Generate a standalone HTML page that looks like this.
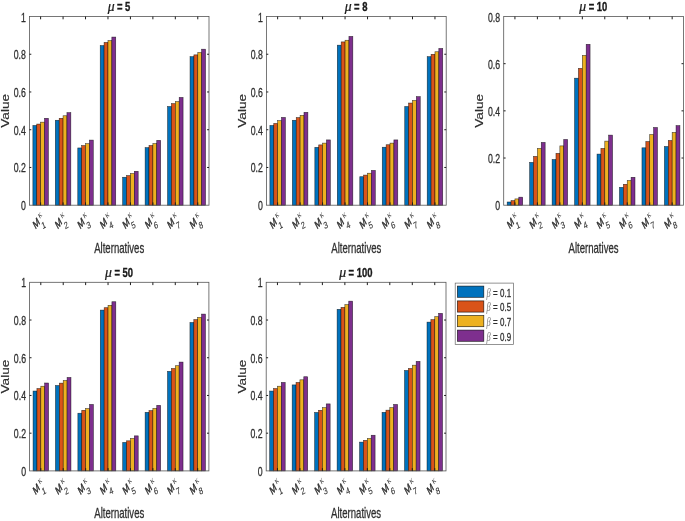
<!DOCTYPE html>
<html>
<head>
<meta charset="utf-8">
<title>Bar charts</title>
<style>
html,body{margin:0;padding:0;background:#ffffff;}
body{width:685px;height:521px;overflow:hidden;font-family:"Liberation Sans",sans-serif;}
svg{display:block;will-change:transform;filter:blur(0.3px);}
text{font-family:"Liberation Sans",sans-serif;}
.tk{font-size:12.5px;fill:#2e2e2e;stroke:#2e2e2e;stroke-width:0.3px;}
.lb{font-size:13.3px;fill:#2e2e2e;}
.tt{font-size:13.2px;font-weight:bold;fill:#1a1a1a;}
.mi{font-family:"Liberation Serif",serif;font-style:italic;}
.ms{font-family:"Liberation Sans",sans-serif;font-style:italic;}
.xl{fill:#2e2e2e;stroke:#2e2e2e;stroke-width:0.4px;}
</style>
</head>
<body>
<svg width="685" height="521" viewBox="0 0 685 521">
<rect x="0" y="0" width="685" height="521" fill="#ffffff"/>

<g>
<rect x="32.88" y="125.49" width="3.88" height="79.71" fill="#0072BD" stroke="#000000" stroke-opacity="0.7" stroke-width="0.6"/>
<rect x="36.75" y="124.06" width="3.88" height="81.14" fill="#D95319" stroke="#000000" stroke-opacity="0.7" stroke-width="0.6"/>
<rect x="40.62" y="122.17" width="3.88" height="83.03" fill="#EDB120" stroke="#000000" stroke-opacity="0.7" stroke-width="0.6"/>
<rect x="44.5" y="118.3" width="3.88" height="86.9" fill="#7E2F8E" stroke="#000000" stroke-opacity="0.7" stroke-width="0.6"/>
<rect x="55.32" y="120.28" width="3.88" height="84.91" fill="#0072BD" stroke="#000000" stroke-opacity="0.7" stroke-width="0.6"/>
<rect x="59.2" y="118.3" width="3.88" height="86.9" fill="#D95319" stroke="#000000" stroke-opacity="0.7" stroke-width="0.6"/>
<rect x="63.07" y="115.76" width="3.88" height="89.44" fill="#EDB120" stroke="#000000" stroke-opacity="0.7" stroke-width="0.6"/>
<rect x="66.95" y="112.64" width="3.88" height="92.56" fill="#7E2F8E" stroke="#000000" stroke-opacity="0.7" stroke-width="0.6"/>
<rect x="77.78" y="147.95" width="3.88" height="57.25" fill="#0072BD" stroke="#000000" stroke-opacity="0.7" stroke-width="0.6"/>
<rect x="81.65" y="145.57" width="3.88" height="59.63" fill="#D95319" stroke="#000000" stroke-opacity="0.7" stroke-width="0.6"/>
<rect x="85.53" y="143.68" width="3.88" height="61.52" fill="#EDB120" stroke="#000000" stroke-opacity="0.7" stroke-width="0.6"/>
<rect x="89.4" y="140.1" width="3.88" height="65.1" fill="#7E2F8E" stroke="#000000" stroke-opacity="0.7" stroke-width="0.6"/>
<rect x="100.22" y="45.56" width="3.88" height="159.64" fill="#0072BD" stroke="#000000" stroke-opacity="0.7" stroke-width="0.6"/>
<rect x="104.1" y="42.45" width="3.88" height="162.75" fill="#D95319" stroke="#000000" stroke-opacity="0.7" stroke-width="0.6"/>
<rect x="107.97" y="40.65" width="3.88" height="164.55" fill="#EDB120" stroke="#000000" stroke-opacity="0.7" stroke-width="0.6"/>
<rect x="111.85" y="37.07" width="3.88" height="168.13" fill="#7E2F8E" stroke="#000000" stroke-opacity="0.7" stroke-width="0.6"/>
<rect x="122.67" y="177.27" width="3.88" height="27.93" fill="#0072BD" stroke="#000000" stroke-opacity="0.7" stroke-width="0.6"/>
<rect x="126.55" y="175.57" width="3.88" height="29.63" fill="#D95319" stroke="#000000" stroke-opacity="0.7" stroke-width="0.6"/>
<rect x="130.42" y="173.5" width="3.88" height="31.7" fill="#EDB120" stroke="#000000" stroke-opacity="0.7" stroke-width="0.6"/>
<rect x="134.3" y="171.31" width="3.88" height="33.89" fill="#7E2F8E" stroke="#000000" stroke-opacity="0.7" stroke-width="0.6"/>
<rect x="145.12" y="147.65" width="3.88" height="57.55" fill="#0072BD" stroke="#000000" stroke-opacity="0.7" stroke-width="0.6"/>
<rect x="149" y="145.48" width="3.88" height="59.72" fill="#D95319" stroke="#000000" stroke-opacity="0.7" stroke-width="0.6"/>
<rect x="152.88" y="143.57" width="3.88" height="61.63" fill="#EDB120" stroke="#000000" stroke-opacity="0.7" stroke-width="0.6"/>
<rect x="156.75" y="140.36" width="3.88" height="64.84" fill="#7E2F8E" stroke="#000000" stroke-opacity="0.7" stroke-width="0.6"/>
<rect x="167.57" y="106.51" width="3.88" height="98.69" fill="#0072BD" stroke="#000000" stroke-opacity="0.7" stroke-width="0.6"/>
<rect x="171.45" y="103.59" width="3.88" height="101.61" fill="#D95319" stroke="#000000" stroke-opacity="0.7" stroke-width="0.6"/>
<rect x="175.32" y="101.6" width="3.88" height="103.6" fill="#EDB120" stroke="#000000" stroke-opacity="0.7" stroke-width="0.6"/>
<rect x="179.2" y="97.45" width="3.88" height="107.75" fill="#7E2F8E" stroke="#000000" stroke-opacity="0.7" stroke-width="0.6"/>
<rect x="190.03" y="56.69" width="3.88" height="148.51" fill="#0072BD" stroke="#000000" stroke-opacity="0.7" stroke-width="0.6"/>
<rect x="193.9" y="54.86" width="3.88" height="150.34" fill="#D95319" stroke="#000000" stroke-opacity="0.7" stroke-width="0.6"/>
<rect x="197.78" y="52.54" width="3.88" height="152.66" fill="#EDB120" stroke="#000000" stroke-opacity="0.7" stroke-width="0.6"/>
<rect x="201.65" y="49.2" width="3.88" height="156" fill="#7E2F8E" stroke="#000000" stroke-opacity="0.7" stroke-width="0.6"/>
<rect x="29.4" y="16.5" width="179.6" height="188.7" fill="none" stroke="#555555" stroke-width="0.8"/>
<path d="M40.62 205.2v-2.8M40.62 16.5v2.8M63.07 205.2v-2.8M63.07 16.5v2.8M85.53 205.2v-2.8M85.53 16.5v2.8M107.97 205.2v-2.8M107.97 16.5v2.8M130.42 205.2v-2.8M130.42 16.5v2.8M152.88 205.2v-2.8M152.88 16.5v2.8M175.32 205.2v-2.8M175.32 16.5v2.8M197.78 205.2v-2.8M197.78 16.5v2.8M29.4 167.46h1.9M209 167.46h-1.9M29.4 129.72h1.9M209 129.72h-1.9M29.4 91.98h1.9M209 91.98h-1.9M29.4 54.24h1.9M209 54.24h-1.9" stroke="#1c1c1c" stroke-width="1" fill="none"/>
<text class="tk" text-anchor="end" transform="translate(25.8 210.2) scale(0.7 1)">0</text>
<text class="tk" text-anchor="end" transform="translate(25.8 172.46) scale(0.7 1)">0.2</text>
<text class="tk" text-anchor="end" transform="translate(25.8 134.72) scale(0.7 1)">0.4</text>
<text class="tk" text-anchor="end" transform="translate(25.8 96.98) scale(0.7 1)">0.6</text>
<text class="tk" text-anchor="end" transform="translate(25.8 59.24) scale(0.7 1)">0.8</text>
<text class="tk" text-anchor="end" transform="translate(25.8 21.5) scale(0.7 1)">1</text>
<g class="xl" transform="translate(40.52 222.8) scale(0.75 1) rotate(-45)"><text class="ms" text-anchor="end" x="0" y="0" font-size="11.0">M</text><text class="mi" x="2.2" y="-3.4" font-size="10" stroke="none" fill="#3a3a3a">&#954;</text><text transform="translate(0.0 7.8) rotate(22)" text-anchor="middle" font-size="9.6" stroke-width="0.1">1</text></g>
<g class="xl" transform="translate(62.97 222.8) scale(0.75 1) rotate(-45)"><text class="ms" text-anchor="end" x="0" y="0" font-size="11.0">M</text><text class="mi" x="2.2" y="-3.4" font-size="10" stroke="none" fill="#3a3a3a">&#954;</text><text transform="translate(0.0 7.8) rotate(22)" text-anchor="middle" font-size="9.6" stroke-width="0.1">2</text></g>
<g class="xl" transform="translate(85.43 222.8) scale(0.75 1) rotate(-45)"><text class="ms" text-anchor="end" x="0" y="0" font-size="11.0">M</text><text class="mi" x="2.2" y="-3.4" font-size="10" stroke="none" fill="#3a3a3a">&#954;</text><text transform="translate(0.0 7.8) rotate(22)" text-anchor="middle" font-size="9.6" stroke-width="0.1">3</text></g>
<g class="xl" transform="translate(107.88 222.8) scale(0.75 1) rotate(-45)"><text class="ms" text-anchor="end" x="0" y="0" font-size="11.0">M</text><text class="mi" x="2.2" y="-3.4" font-size="10" stroke="none" fill="#3a3a3a">&#954;</text><text transform="translate(0.0 7.8) rotate(22)" text-anchor="middle" font-size="9.6" stroke-width="0.1">4</text></g>
<g class="xl" transform="translate(130.32 222.8) scale(0.75 1) rotate(-45)"><text class="ms" text-anchor="end" x="0" y="0" font-size="11.0">M</text><text class="mi" x="2.2" y="-3.4" font-size="10" stroke="none" fill="#3a3a3a">&#954;</text><text transform="translate(0.0 7.8) rotate(22)" text-anchor="middle" font-size="9.6" stroke-width="0.1">5</text></g>
<g class="xl" transform="translate(152.78 222.8) scale(0.75 1) rotate(-45)"><text class="ms" text-anchor="end" x="0" y="0" font-size="11.0">M</text><text class="mi" x="2.2" y="-3.4" font-size="10" stroke="none" fill="#3a3a3a">&#954;</text><text transform="translate(0.0 7.8) rotate(22)" text-anchor="middle" font-size="9.6" stroke-width="0.1">6</text></g>
<g class="xl" transform="translate(175.22 222.8) scale(0.75 1) rotate(-45)"><text class="ms" text-anchor="end" x="0" y="0" font-size="11.0">M</text><text class="mi" x="2.2" y="-3.4" font-size="10" stroke="none" fill="#3a3a3a">&#954;</text><text transform="translate(0.0 7.8) rotate(22)" text-anchor="middle" font-size="9.6" stroke-width="0.1">7</text></g>
<g class="xl" transform="translate(197.68 222.8) scale(0.75 1) rotate(-45)"><text class="ms" text-anchor="end" x="0" y="0" font-size="11.0">M</text><text class="mi" x="2.2" y="-3.4" font-size="10" stroke="none" fill="#3a3a3a">&#954;</text><text transform="translate(0.0 7.8) rotate(22)" text-anchor="middle" font-size="9.6" stroke-width="0.1">8</text></g>
<text class="mi" font-size="14" fill="#1a1a1a" stroke="#1a1a1a" stroke-width="0.25" transform="translate(107.65 11.3) scale(0.98 1)">&#956;</text>
<text class="tt" text-anchor="end" stroke="#1a1a1a" stroke-width="0.38" transform="translate(130.35 11.3) scale(0.715 1)">= 5</text>
<text class="lb" text-anchor="middle" font-size="14.4" style="font-size:14.4px" stroke="#2e2e2e" stroke-width="0.3" transform="translate(119.2 252.7) scale(0.665 1)">Alternatives</text>
<text class="lb" text-anchor="middle" transform="translate(9.1 110.85) rotate(-90) scale(1.02 0.82)" stroke="#2e2e2e" stroke-width="0.2">Value</text>
</g>
<g>
<rect x="269.89" y="125.47" width="3.88" height="79.73" fill="#0072BD" stroke="#000000" stroke-opacity="0.7" stroke-width="0.6"/>
<rect x="273.76" y="123.44" width="3.88" height="81.76" fill="#D95319" stroke="#000000" stroke-opacity="0.7" stroke-width="0.6"/>
<rect x="277.64" y="120.66" width="3.88" height="84.54" fill="#EDB120" stroke="#000000" stroke-opacity="0.7" stroke-width="0.6"/>
<rect x="281.51" y="117.45" width="3.88" height="87.75" fill="#7E2F8E" stroke="#000000" stroke-opacity="0.7" stroke-width="0.6"/>
<rect x="292.36" y="120.28" width="3.88" height="84.91" fill="#0072BD" stroke="#000000" stroke-opacity="0.7" stroke-width="0.6"/>
<rect x="296.24" y="117.59" width="3.88" height="87.61" fill="#D95319" stroke="#000000" stroke-opacity="0.7" stroke-width="0.6"/>
<rect x="300.11" y="115.4" width="3.88" height="89.8" fill="#EDB120" stroke="#000000" stroke-opacity="0.7" stroke-width="0.6"/>
<rect x="303.99" y="112.34" width="3.88" height="92.86" fill="#7E2F8E" stroke="#000000" stroke-opacity="0.7" stroke-width="0.6"/>
<rect x="314.84" y="147.38" width="3.88" height="57.82" fill="#0072BD" stroke="#000000" stroke-opacity="0.7" stroke-width="0.6"/>
<rect x="318.71" y="144.89" width="3.88" height="60.31" fill="#D95319" stroke="#000000" stroke-opacity="0.7" stroke-width="0.6"/>
<rect x="322.59" y="143.12" width="3.88" height="62.08" fill="#EDB120" stroke="#000000" stroke-opacity="0.7" stroke-width="0.6"/>
<rect x="326.46" y="139.91" width="3.88" height="65.29" fill="#7E2F8E" stroke="#000000" stroke-opacity="0.7" stroke-width="0.6"/>
<rect x="337.31" y="45.18" width="3.88" height="160.02" fill="#0072BD" stroke="#000000" stroke-opacity="0.7" stroke-width="0.6"/>
<rect x="341.19" y="41.9" width="3.88" height="163.3" fill="#D95319" stroke="#000000" stroke-opacity="0.7" stroke-width="0.6"/>
<rect x="345.06" y="40.26" width="3.88" height="164.94" fill="#EDB120" stroke="#000000" stroke-opacity="0.7" stroke-width="0.6"/>
<rect x="348.94" y="36.43" width="3.88" height="168.77" fill="#7E2F8E" stroke="#000000" stroke-opacity="0.7" stroke-width="0.6"/>
<rect x="359.79" y="176.71" width="3.88" height="28.49" fill="#0072BD" stroke="#000000" stroke-opacity="0.7" stroke-width="0.6"/>
<rect x="363.66" y="175.1" width="3.88" height="30.1" fill="#D95319" stroke="#000000" stroke-opacity="0.7" stroke-width="0.6"/>
<rect x="367.54" y="173.22" width="3.88" height="31.98" fill="#EDB120" stroke="#000000" stroke-opacity="0.7" stroke-width="0.6"/>
<rect x="371.41" y="170.44" width="3.88" height="34.76" fill="#7E2F8E" stroke="#000000" stroke-opacity="0.7" stroke-width="0.6"/>
<rect x="382.26" y="147.23" width="3.88" height="57.97" fill="#0072BD" stroke="#000000" stroke-opacity="0.7" stroke-width="0.6"/>
<rect x="386.14" y="144.74" width="3.88" height="60.46" fill="#D95319" stroke="#000000" stroke-opacity="0.7" stroke-width="0.6"/>
<rect x="390.01" y="143.12" width="3.88" height="62.08" fill="#EDB120" stroke="#000000" stroke-opacity="0.7" stroke-width="0.6"/>
<rect x="393.89" y="139.91" width="3.88" height="65.29" fill="#7E2F8E" stroke="#000000" stroke-opacity="0.7" stroke-width="0.6"/>
<rect x="404.74" y="106.51" width="3.88" height="98.69" fill="#0072BD" stroke="#000000" stroke-opacity="0.7" stroke-width="0.6"/>
<rect x="408.61" y="103.04" width="3.88" height="102.16" fill="#D95319" stroke="#000000" stroke-opacity="0.7" stroke-width="0.6"/>
<rect x="412.49" y="100.47" width="3.88" height="104.73" fill="#EDB120" stroke="#000000" stroke-opacity="0.7" stroke-width="0.6"/>
<rect x="416.36" y="96.64" width="3.88" height="108.56" fill="#7E2F8E" stroke="#000000" stroke-opacity="0.7" stroke-width="0.6"/>
<rect x="427.21" y="56.69" width="3.88" height="148.51" fill="#0072BD" stroke="#000000" stroke-opacity="0.7" stroke-width="0.6"/>
<rect x="431.09" y="54.32" width="3.88" height="150.88" fill="#D95319" stroke="#000000" stroke-opacity="0.7" stroke-width="0.6"/>
<rect x="434.96" y="51.75" width="3.88" height="153.45" fill="#EDB120" stroke="#000000" stroke-opacity="0.7" stroke-width="0.6"/>
<rect x="438.84" y="48.47" width="3.88" height="156.73" fill="#7E2F8E" stroke="#000000" stroke-opacity="0.7" stroke-width="0.6"/>
<rect x="266.4" y="16.5" width="179.8" height="188.7" fill="none" stroke="#555555" stroke-width="0.8"/>
<path d="M277.64 205.2v-2.8M277.64 16.5v2.8M300.11 205.2v-2.8M300.11 16.5v2.8M322.59 205.2v-2.8M322.59 16.5v2.8M345.06 205.2v-2.8M345.06 16.5v2.8M367.54 205.2v-2.8M367.54 16.5v2.8M390.01 205.2v-2.8M390.01 16.5v2.8M412.49 205.2v-2.8M412.49 16.5v2.8M434.96 205.2v-2.8M434.96 16.5v2.8M266.4 167.46h1.9M446.2 167.46h-1.9M266.4 129.72h1.9M446.2 129.72h-1.9M266.4 91.98h1.9M446.2 91.98h-1.9M266.4 54.24h1.9M446.2 54.24h-1.9" stroke="#1c1c1c" stroke-width="1" fill="none"/>
<text class="tk" text-anchor="end" transform="translate(262.8 210.2) scale(0.7 1)">0</text>
<text class="tk" text-anchor="end" transform="translate(262.8 172.46) scale(0.7 1)">0.2</text>
<text class="tk" text-anchor="end" transform="translate(262.8 134.72) scale(0.7 1)">0.4</text>
<text class="tk" text-anchor="end" transform="translate(262.8 96.98) scale(0.7 1)">0.6</text>
<text class="tk" text-anchor="end" transform="translate(262.8 59.24) scale(0.7 1)">0.8</text>
<text class="tk" text-anchor="end" transform="translate(262.8 21.5) scale(0.7 1)">1</text>
<g class="xl" transform="translate(277.54 222.8) scale(0.75 1) rotate(-45)"><text class="ms" text-anchor="end" x="0" y="0" font-size="11.0">M</text><text class="mi" x="2.2" y="-3.4" font-size="10" stroke="none" fill="#3a3a3a">&#954;</text><text transform="translate(0.0 7.8) rotate(22)" text-anchor="middle" font-size="9.6" stroke-width="0.1">1</text></g>
<g class="xl" transform="translate(300.01 222.8) scale(0.75 1) rotate(-45)"><text class="ms" text-anchor="end" x="0" y="0" font-size="11.0">M</text><text class="mi" x="2.2" y="-3.4" font-size="10" stroke="none" fill="#3a3a3a">&#954;</text><text transform="translate(0.0 7.8) rotate(22)" text-anchor="middle" font-size="9.6" stroke-width="0.1">2</text></g>
<g class="xl" transform="translate(322.49 222.8) scale(0.75 1) rotate(-45)"><text class="ms" text-anchor="end" x="0" y="0" font-size="11.0">M</text><text class="mi" x="2.2" y="-3.4" font-size="10" stroke="none" fill="#3a3a3a">&#954;</text><text transform="translate(0.0 7.8) rotate(22)" text-anchor="middle" font-size="9.6" stroke-width="0.1">3</text></g>
<g class="xl" transform="translate(344.96 222.8) scale(0.75 1) rotate(-45)"><text class="ms" text-anchor="end" x="0" y="0" font-size="11.0">M</text><text class="mi" x="2.2" y="-3.4" font-size="10" stroke="none" fill="#3a3a3a">&#954;</text><text transform="translate(0.0 7.8) rotate(22)" text-anchor="middle" font-size="9.6" stroke-width="0.1">4</text></g>
<g class="xl" transform="translate(367.44 222.8) scale(0.75 1) rotate(-45)"><text class="ms" text-anchor="end" x="0" y="0" font-size="11.0">M</text><text class="mi" x="2.2" y="-3.4" font-size="10" stroke="none" fill="#3a3a3a">&#954;</text><text transform="translate(0.0 7.8) rotate(22)" text-anchor="middle" font-size="9.6" stroke-width="0.1">5</text></g>
<g class="xl" transform="translate(389.91 222.8) scale(0.75 1) rotate(-45)"><text class="ms" text-anchor="end" x="0" y="0" font-size="11.0">M</text><text class="mi" x="2.2" y="-3.4" font-size="10" stroke="none" fill="#3a3a3a">&#954;</text><text transform="translate(0.0 7.8) rotate(22)" text-anchor="middle" font-size="9.6" stroke-width="0.1">6</text></g>
<g class="xl" transform="translate(412.39 222.8) scale(0.75 1) rotate(-45)"><text class="ms" text-anchor="end" x="0" y="0" font-size="11.0">M</text><text class="mi" x="2.2" y="-3.4" font-size="10" stroke="none" fill="#3a3a3a">&#954;</text><text transform="translate(0.0 7.8) rotate(22)" text-anchor="middle" font-size="9.6" stroke-width="0.1">7</text></g>
<g class="xl" transform="translate(434.86 222.8) scale(0.75 1) rotate(-45)"><text class="ms" text-anchor="end" x="0" y="0" font-size="11.0">M</text><text class="mi" x="2.2" y="-3.4" font-size="10" stroke="none" fill="#3a3a3a">&#954;</text><text transform="translate(0.0 7.8) rotate(22)" text-anchor="middle" font-size="9.6" stroke-width="0.1">8</text></g>
<text class="mi" font-size="14" fill="#1a1a1a" stroke="#1a1a1a" stroke-width="0.25" transform="translate(344.75 11.3) scale(0.98 1)">&#956;</text>
<text class="tt" text-anchor="end" stroke="#1a1a1a" stroke-width="0.38" transform="translate(367.45 11.3) scale(0.715 1)">= 8</text>
<text class="lb" text-anchor="middle" font-size="14.4" style="font-size:14.4px" stroke="#2e2e2e" stroke-width="0.3" transform="translate(356.3 252.7) scale(0.665 1)">Alternatives</text>
<text class="lb" text-anchor="middle" transform="translate(246.1 110.85) rotate(-90) scale(1.02 0.82)" stroke="#2e2e2e" stroke-width="0.2">Value</text>
</g>
<g>
<rect x="507.18" y="201.99" width="3.88" height="3.21" fill="#0072BD" stroke="#000000" stroke-opacity="0.7" stroke-width="0.6"/>
<rect x="511.06" y="200.65" width="3.88" height="4.55" fill="#D95319" stroke="#000000" stroke-opacity="0.7" stroke-width="0.6"/>
<rect x="514.93" y="198.9" width="3.88" height="6.3" fill="#EDB120" stroke="#000000" stroke-opacity="0.7" stroke-width="0.6"/>
<rect x="518.81" y="197.18" width="3.88" height="8.02" fill="#7E2F8E" stroke="#000000" stroke-opacity="0.7" stroke-width="0.6"/>
<rect x="529.64" y="162.41" width="3.88" height="42.79" fill="#0072BD" stroke="#000000" stroke-opacity="0.7" stroke-width="0.6"/>
<rect x="533.52" y="156.42" width="3.88" height="48.78" fill="#D95319" stroke="#000000" stroke-opacity="0.7" stroke-width="0.6"/>
<rect x="537.39" y="148.4" width="3.88" height="56.8" fill="#EDB120" stroke="#000000" stroke-opacity="0.7" stroke-width="0.6"/>
<rect x="541.27" y="142.41" width="3.88" height="62.79" fill="#7E2F8E" stroke="#000000" stroke-opacity="0.7" stroke-width="0.6"/>
<rect x="552.11" y="159.51" width="3.88" height="45.69" fill="#0072BD" stroke="#000000" stroke-opacity="0.7" stroke-width="0.6"/>
<rect x="555.98" y="153.38" width="3.88" height="51.82" fill="#D95319" stroke="#000000" stroke-opacity="0.7" stroke-width="0.6"/>
<rect x="559.86" y="145.9" width="3.88" height="59.3" fill="#EDB120" stroke="#000000" stroke-opacity="0.7" stroke-width="0.6"/>
<rect x="563.73" y="139.49" width="3.88" height="65.71" fill="#7E2F8E" stroke="#000000" stroke-opacity="0.7" stroke-width="0.6"/>
<rect x="574.57" y="78.2" width="3.88" height="127" fill="#0072BD" stroke="#000000" stroke-opacity="0.7" stroke-width="0.6"/>
<rect x="578.44" y="68.39" width="3.88" height="136.81" fill="#D95319" stroke="#000000" stroke-opacity="0.7" stroke-width="0.6"/>
<rect x="582.32" y="55.42" width="3.88" height="149.78" fill="#EDB120" stroke="#000000" stroke-opacity="0.7" stroke-width="0.6"/>
<rect x="586.19" y="44.33" width="3.88" height="160.87" fill="#7E2F8E" stroke="#000000" stroke-opacity="0.7" stroke-width="0.6"/>
<rect x="597.03" y="154.09" width="3.88" height="51.11" fill="#0072BD" stroke="#000000" stroke-opacity="0.7" stroke-width="0.6"/>
<rect x="600.91" y="148.4" width="3.88" height="56.8" fill="#D95319" stroke="#000000" stroke-opacity="0.7" stroke-width="0.6"/>
<rect x="604.78" y="141.11" width="3.88" height="64.09" fill="#EDB120" stroke="#000000" stroke-opacity="0.7" stroke-width="0.6"/>
<rect x="608.66" y="135.12" width="3.88" height="70.08" fill="#7E2F8E" stroke="#000000" stroke-opacity="0.7" stroke-width="0.6"/>
<rect x="619.49" y="187.37" width="3.88" height="17.83" fill="#0072BD" stroke="#000000" stroke-opacity="0.7" stroke-width="0.6"/>
<rect x="623.37" y="184.3" width="3.88" height="20.9" fill="#D95319" stroke="#000000" stroke-opacity="0.7" stroke-width="0.6"/>
<rect x="627.24" y="180.5" width="3.88" height="24.7" fill="#EDB120" stroke="#000000" stroke-opacity="0.7" stroke-width="0.6"/>
<rect x="631.12" y="177.3" width="3.88" height="27.9" fill="#7E2F8E" stroke="#000000" stroke-opacity="0.7" stroke-width="0.6"/>
<rect x="641.96" y="147.81" width="3.88" height="57.39" fill="#0072BD" stroke="#000000" stroke-opacity="0.7" stroke-width="0.6"/>
<rect x="645.83" y="141.54" width="3.88" height="63.66" fill="#D95319" stroke="#000000" stroke-opacity="0.7" stroke-width="0.6"/>
<rect x="649.71" y="134.53" width="3.88" height="70.67" fill="#EDB120" stroke="#000000" stroke-opacity="0.7" stroke-width="0.6"/>
<rect x="653.58" y="127.5" width="3.88" height="77.7" fill="#7E2F8E" stroke="#000000" stroke-opacity="0.7" stroke-width="0.6"/>
<rect x="664.42" y="146.51" width="3.88" height="58.69" fill="#0072BD" stroke="#000000" stroke-opacity="0.7" stroke-width="0.6"/>
<rect x="668.29" y="140.5" width="3.88" height="64.7" fill="#D95319" stroke="#000000" stroke-opacity="0.7" stroke-width="0.6"/>
<rect x="672.17" y="132.43" width="3.88" height="72.77" fill="#EDB120" stroke="#000000" stroke-opacity="0.7" stroke-width="0.6"/>
<rect x="676.04" y="125.62" width="3.88" height="79.58" fill="#7E2F8E" stroke="#000000" stroke-opacity="0.7" stroke-width="0.6"/>
<rect x="503.7" y="16.5" width="179.7" height="188.7" fill="none" stroke="#555555" stroke-width="0.8"/>
<path d="M514.93 205.2v-2.8M514.93 16.5v2.8M537.39 205.2v-2.8M537.39 16.5v2.8M559.86 205.2v-2.8M559.86 16.5v2.8M582.32 205.2v-2.8M582.32 16.5v2.8M604.78 205.2v-2.8M604.78 16.5v2.8M627.24 205.2v-2.8M627.24 16.5v2.8M649.71 205.2v-2.8M649.71 16.5v2.8M672.17 205.2v-2.8M672.17 16.5v2.8M503.7 158.02h1.9M683.4 158.02h-1.9M503.7 110.85h1.9M683.4 110.85h-1.9M503.7 63.68h1.9M683.4 63.68h-1.9" stroke="#1c1c1c" stroke-width="1" fill="none"/>
<text class="tk" text-anchor="end" transform="translate(500.1 210.2) scale(0.7 1)">0</text>
<text class="tk" text-anchor="end" transform="translate(500.1 163.02) scale(0.7 1)">0.2</text>
<text class="tk" text-anchor="end" transform="translate(500.1 115.85) scale(0.7 1)">0.4</text>
<text class="tk" text-anchor="end" transform="translate(500.1 68.68) scale(0.7 1)">0.6</text>
<text class="tk" text-anchor="end" transform="translate(500.1 21.5) scale(0.7 1)">0.8</text>
<g class="xl" transform="translate(514.83 222.8) scale(0.75 1) rotate(-45)"><text class="ms" text-anchor="end" x="0" y="0" font-size="11.0">M</text><text class="mi" x="2.2" y="-3.4" font-size="10" stroke="none" fill="#3a3a3a">&#954;</text><text transform="translate(0.0 7.8) rotate(22)" text-anchor="middle" font-size="9.6" stroke-width="0.1">1</text></g>
<g class="xl" transform="translate(537.29 222.8) scale(0.75 1) rotate(-45)"><text class="ms" text-anchor="end" x="0" y="0" font-size="11.0">M</text><text class="mi" x="2.2" y="-3.4" font-size="10" stroke="none" fill="#3a3a3a">&#954;</text><text transform="translate(0.0 7.8) rotate(22)" text-anchor="middle" font-size="9.6" stroke-width="0.1">2</text></g>
<g class="xl" transform="translate(559.76 222.8) scale(0.75 1) rotate(-45)"><text class="ms" text-anchor="end" x="0" y="0" font-size="11.0">M</text><text class="mi" x="2.2" y="-3.4" font-size="10" stroke="none" fill="#3a3a3a">&#954;</text><text transform="translate(0.0 7.8) rotate(22)" text-anchor="middle" font-size="9.6" stroke-width="0.1">3</text></g>
<g class="xl" transform="translate(582.22 222.8) scale(0.75 1) rotate(-45)"><text class="ms" text-anchor="end" x="0" y="0" font-size="11.0">M</text><text class="mi" x="2.2" y="-3.4" font-size="10" stroke="none" fill="#3a3a3a">&#954;</text><text transform="translate(0.0 7.8) rotate(22)" text-anchor="middle" font-size="9.6" stroke-width="0.1">4</text></g>
<g class="xl" transform="translate(604.68 222.8) scale(0.75 1) rotate(-45)"><text class="ms" text-anchor="end" x="0" y="0" font-size="11.0">M</text><text class="mi" x="2.2" y="-3.4" font-size="10" stroke="none" fill="#3a3a3a">&#954;</text><text transform="translate(0.0 7.8) rotate(22)" text-anchor="middle" font-size="9.6" stroke-width="0.1">5</text></g>
<g class="xl" transform="translate(627.14 222.8) scale(0.75 1) rotate(-45)"><text class="ms" text-anchor="end" x="0" y="0" font-size="11.0">M</text><text class="mi" x="2.2" y="-3.4" font-size="10" stroke="none" fill="#3a3a3a">&#954;</text><text transform="translate(0.0 7.8) rotate(22)" text-anchor="middle" font-size="9.6" stroke-width="0.1">6</text></g>
<g class="xl" transform="translate(649.61 222.8) scale(0.75 1) rotate(-45)"><text class="ms" text-anchor="end" x="0" y="0" font-size="11.0">M</text><text class="mi" x="2.2" y="-3.4" font-size="10" stroke="none" fill="#3a3a3a">&#954;</text><text transform="translate(0.0 7.8) rotate(22)" text-anchor="middle" font-size="9.6" stroke-width="0.1">7</text></g>
<g class="xl" transform="translate(672.07 222.8) scale(0.75 1) rotate(-45)"><text class="ms" text-anchor="end" x="0" y="0" font-size="11.0">M</text><text class="mi" x="2.2" y="-3.4" font-size="10" stroke="none" fill="#3a3a3a">&#954;</text><text transform="translate(0.0 7.8) rotate(22)" text-anchor="middle" font-size="9.6" stroke-width="0.1">8</text></g>
<text class="mi" font-size="14" fill="#1a1a1a" stroke="#1a1a1a" stroke-width="0.25" transform="translate(579.35 11.3) scale(0.98 1)">&#956;</text>
<text class="tt" text-anchor="end" stroke="#1a1a1a" stroke-width="0.38" transform="translate(607.35 11.3) scale(0.715 1)">= 10</text>
<text class="lb" text-anchor="middle" font-size="14.4" style="font-size:14.4px" stroke="#2e2e2e" stroke-width="0.3" transform="translate(593.55 252.7) scale(0.665 1)">Alternatives</text>
<text class="lb" text-anchor="middle" transform="translate(483.4 110.85) rotate(-90) scale(1.02 0.82)" stroke="#2e2e2e" stroke-width="0.2">Value</text>
</g>
<g>
<rect x="33.06" y="391.05" width="3.88" height="79.85" fill="#0072BD" stroke="#000000" stroke-opacity="0.7" stroke-width="0.6"/>
<rect x="36.93" y="388.56" width="3.88" height="82.34" fill="#D95319" stroke="#000000" stroke-opacity="0.7" stroke-width="0.6"/>
<rect x="40.81" y="386.22" width="3.88" height="84.68" fill="#EDB120" stroke="#000000" stroke-opacity="0.7" stroke-width="0.6"/>
<rect x="44.68" y="383.01" width="3.88" height="87.89" fill="#7E2F8E" stroke="#000000" stroke-opacity="0.7" stroke-width="0.6"/>
<rect x="55.47" y="385.5" width="3.88" height="85.4" fill="#0072BD" stroke="#000000" stroke-opacity="0.7" stroke-width="0.6"/>
<rect x="59.34" y="383.14" width="3.88" height="87.76" fill="#D95319" stroke="#000000" stroke-opacity="0.7" stroke-width="0.6"/>
<rect x="63.22" y="380.5" width="3.88" height="90.4" fill="#EDB120" stroke="#000000" stroke-opacity="0.7" stroke-width="0.6"/>
<rect x="67.09" y="377.47" width="3.88" height="93.43" fill="#7E2F8E" stroke="#000000" stroke-opacity="0.7" stroke-width="0.6"/>
<rect x="77.88" y="413.23" width="3.88" height="57.67" fill="#0072BD" stroke="#000000" stroke-opacity="0.7" stroke-width="0.6"/>
<rect x="81.76" y="410.3" width="3.88" height="60.6" fill="#D95319" stroke="#000000" stroke-opacity="0.7" stroke-width="0.6"/>
<rect x="85.63" y="408.55" width="3.88" height="62.35" fill="#EDB120" stroke="#000000" stroke-opacity="0.7" stroke-width="0.6"/>
<rect x="89.51" y="404.46" width="3.88" height="66.44" fill="#7E2F8E" stroke="#000000" stroke-opacity="0.7" stroke-width="0.6"/>
<rect x="100.29" y="310.1" width="3.88" height="160.8" fill="#0072BD" stroke="#000000" stroke-opacity="0.7" stroke-width="0.6"/>
<rect x="104.17" y="307.7" width="3.88" height="163.2" fill="#D95319" stroke="#000000" stroke-opacity="0.7" stroke-width="0.6"/>
<rect x="108.04" y="305.31" width="3.88" height="165.59" fill="#EDB120" stroke="#000000" stroke-opacity="0.7" stroke-width="0.6"/>
<rect x="111.92" y="301.73" width="3.88" height="169.17" fill="#7E2F8E" stroke="#000000" stroke-opacity="0.7" stroke-width="0.6"/>
<rect x="122.71" y="442.42" width="3.88" height="28.48" fill="#0072BD" stroke="#000000" stroke-opacity="0.7" stroke-width="0.6"/>
<rect x="126.58" y="440.82" width="3.88" height="30.08" fill="#D95319" stroke="#000000" stroke-opacity="0.7" stroke-width="0.6"/>
<rect x="130.46" y="438.46" width="3.88" height="32.44" fill="#EDB120" stroke="#000000" stroke-opacity="0.7" stroke-width="0.6"/>
<rect x="134.33" y="435.86" width="3.88" height="35.04" fill="#7E2F8E" stroke="#000000" stroke-opacity="0.7" stroke-width="0.6"/>
<rect x="145.12" y="412.36" width="3.88" height="58.54" fill="#0072BD" stroke="#000000" stroke-opacity="0.7" stroke-width="0.6"/>
<rect x="148.99" y="410.6" width="3.88" height="60.3" fill="#D95319" stroke="#000000" stroke-opacity="0.7" stroke-width="0.6"/>
<rect x="152.87" y="408.42" width="3.88" height="62.48" fill="#EDB120" stroke="#000000" stroke-opacity="0.7" stroke-width="0.6"/>
<rect x="156.74" y="405.34" width="3.88" height="65.56" fill="#7E2F8E" stroke="#000000" stroke-opacity="0.7" stroke-width="0.6"/>
<rect x="167.53" y="371.39" width="3.88" height="99.51" fill="#0072BD" stroke="#000000" stroke-opacity="0.7" stroke-width="0.6"/>
<rect x="171.41" y="368.49" width="3.88" height="102.41" fill="#D95319" stroke="#000000" stroke-opacity="0.7" stroke-width="0.6"/>
<rect x="175.28" y="365.7" width="3.88" height="105.2" fill="#EDB120" stroke="#000000" stroke-opacity="0.7" stroke-width="0.6"/>
<rect x="179.16" y="362.08" width="3.88" height="108.82" fill="#7E2F8E" stroke="#000000" stroke-opacity="0.7" stroke-width="0.6"/>
<rect x="189.94" y="322.51" width="3.88" height="148.39" fill="#0072BD" stroke="#000000" stroke-opacity="0.7" stroke-width="0.6"/>
<rect x="193.82" y="319.61" width="3.88" height="151.29" fill="#D95319" stroke="#000000" stroke-opacity="0.7" stroke-width="0.6"/>
<rect x="197.69" y="317.4" width="3.88" height="153.5" fill="#EDB120" stroke="#000000" stroke-opacity="0.7" stroke-width="0.6"/>
<rect x="201.57" y="314.1" width="3.88" height="156.8" fill="#7E2F8E" stroke="#000000" stroke-opacity="0.7" stroke-width="0.6"/>
<rect x="29.6" y="282.3" width="179.3" height="188.6" fill="none" stroke="#555555" stroke-width="0.8"/>
<path d="M40.81 470.9v-2.8M40.81 282.3v2.8M63.22 470.9v-2.8M63.22 282.3v2.8M85.63 470.9v-2.8M85.63 282.3v2.8M108.04 470.9v-2.8M108.04 282.3v2.8M130.46 470.9v-2.8M130.46 282.3v2.8M152.87 470.9v-2.8M152.87 282.3v2.8M175.28 470.9v-2.8M175.28 282.3v2.8M197.69 470.9v-2.8M197.69 282.3v2.8M29.6 433.18h1.9M208.9 433.18h-1.9M29.6 395.46h1.9M208.9 395.46h-1.9M29.6 357.74h1.9M208.9 357.74h-1.9M29.6 320.02h1.9M208.9 320.02h-1.9" stroke="#1c1c1c" stroke-width="1" fill="none"/>
<text class="tk" text-anchor="end" transform="translate(26 475.9) scale(0.7 1)">0</text>
<text class="tk" text-anchor="end" transform="translate(26 438.18) scale(0.7 1)">0.2</text>
<text class="tk" text-anchor="end" transform="translate(26 400.46) scale(0.7 1)">0.4</text>
<text class="tk" text-anchor="end" transform="translate(26 362.74) scale(0.7 1)">0.6</text>
<text class="tk" text-anchor="end" transform="translate(26 325.02) scale(0.7 1)">0.8</text>
<text class="tk" text-anchor="end" transform="translate(26 287.3) scale(0.7 1)">1</text>
<g class="xl" transform="translate(40.71 488.5) scale(0.75 1) rotate(-45)"><text class="ms" text-anchor="end" x="0" y="0" font-size="11.0">M</text><text class="mi" x="2.2" y="-3.4" font-size="10" stroke="none" fill="#3a3a3a">&#954;</text><text transform="translate(0.0 7.8) rotate(22)" text-anchor="middle" font-size="9.6" stroke-width="0.1">1</text></g>
<g class="xl" transform="translate(63.12 488.5) scale(0.75 1) rotate(-45)"><text class="ms" text-anchor="end" x="0" y="0" font-size="11.0">M</text><text class="mi" x="2.2" y="-3.4" font-size="10" stroke="none" fill="#3a3a3a">&#954;</text><text transform="translate(0.0 7.8) rotate(22)" text-anchor="middle" font-size="9.6" stroke-width="0.1">2</text></g>
<g class="xl" transform="translate(85.53 488.5) scale(0.75 1) rotate(-45)"><text class="ms" text-anchor="end" x="0" y="0" font-size="11.0">M</text><text class="mi" x="2.2" y="-3.4" font-size="10" stroke="none" fill="#3a3a3a">&#954;</text><text transform="translate(0.0 7.8) rotate(22)" text-anchor="middle" font-size="9.6" stroke-width="0.1">3</text></g>
<g class="xl" transform="translate(107.94 488.5) scale(0.75 1) rotate(-45)"><text class="ms" text-anchor="end" x="0" y="0" font-size="11.0">M</text><text class="mi" x="2.2" y="-3.4" font-size="10" stroke="none" fill="#3a3a3a">&#954;</text><text transform="translate(0.0 7.8) rotate(22)" text-anchor="middle" font-size="9.6" stroke-width="0.1">4</text></g>
<g class="xl" transform="translate(130.36 488.5) scale(0.75 1) rotate(-45)"><text class="ms" text-anchor="end" x="0" y="0" font-size="11.0">M</text><text class="mi" x="2.2" y="-3.4" font-size="10" stroke="none" fill="#3a3a3a">&#954;</text><text transform="translate(0.0 7.8) rotate(22)" text-anchor="middle" font-size="9.6" stroke-width="0.1">5</text></g>
<g class="xl" transform="translate(152.77 488.5) scale(0.75 1) rotate(-45)"><text class="ms" text-anchor="end" x="0" y="0" font-size="11.0">M</text><text class="mi" x="2.2" y="-3.4" font-size="10" stroke="none" fill="#3a3a3a">&#954;</text><text transform="translate(0.0 7.8) rotate(22)" text-anchor="middle" font-size="9.6" stroke-width="0.1">6</text></g>
<g class="xl" transform="translate(175.18 488.5) scale(0.75 1) rotate(-45)"><text class="ms" text-anchor="end" x="0" y="0" font-size="11.0">M</text><text class="mi" x="2.2" y="-3.4" font-size="10" stroke="none" fill="#3a3a3a">&#954;</text><text transform="translate(0.0 7.8) rotate(22)" text-anchor="middle" font-size="9.6" stroke-width="0.1">7</text></g>
<g class="xl" transform="translate(197.59 488.5) scale(0.75 1) rotate(-45)"><text class="ms" text-anchor="end" x="0" y="0" font-size="11.0">M</text><text class="mi" x="2.2" y="-3.4" font-size="10" stroke="none" fill="#3a3a3a">&#954;</text><text transform="translate(0.0 7.8) rotate(22)" text-anchor="middle" font-size="9.6" stroke-width="0.1">8</text></g>
<text class="mi" font-size="14" fill="#1a1a1a" stroke="#1a1a1a" stroke-width="0.25" transform="translate(105.05 277.1) scale(0.98 1)">&#956;</text>
<text class="tt" text-anchor="end" stroke="#1a1a1a" stroke-width="0.38" transform="translate(133.05 277.1) scale(0.715 1)">= 50</text>
<text class="lb" text-anchor="middle" font-size="14.4" style="font-size:14.4px" stroke="#2e2e2e" stroke-width="0.3" transform="translate(119.25 518.4) scale(0.665 1)">Alternatives</text>
<text class="lb" text-anchor="middle" transform="translate(9.3 376.6) rotate(-90) scale(1.02 0.82)" stroke="#2e2e2e" stroke-width="0.2">Value</text>
</g>
<g>
<rect x="269.69" y="391.05" width="3.88" height="79.85" fill="#0072BD" stroke="#000000" stroke-opacity="0.7" stroke-width="0.6"/>
<rect x="273.56" y="388.56" width="3.88" height="82.34" fill="#D95319" stroke="#000000" stroke-opacity="0.7" stroke-width="0.6"/>
<rect x="277.44" y="386.22" width="3.88" height="84.68" fill="#EDB120" stroke="#000000" stroke-opacity="0.7" stroke-width="0.6"/>
<rect x="281.31" y="382.45" width="3.88" height="88.45" fill="#7E2F8E" stroke="#000000" stroke-opacity="0.7" stroke-width="0.6"/>
<rect x="292.16" y="384.9" width="3.88" height="86" fill="#0072BD" stroke="#000000" stroke-opacity="0.7" stroke-width="0.6"/>
<rect x="296.04" y="382.45" width="3.88" height="88.45" fill="#D95319" stroke="#000000" stroke-opacity="0.7" stroke-width="0.6"/>
<rect x="299.91" y="379.81" width="3.88" height="91.09" fill="#EDB120" stroke="#000000" stroke-opacity="0.7" stroke-width="0.6"/>
<rect x="303.79" y="376.73" width="3.88" height="94.17" fill="#7E2F8E" stroke="#000000" stroke-opacity="0.7" stroke-width="0.6"/>
<rect x="314.64" y="412.49" width="3.88" height="58.41" fill="#0072BD" stroke="#000000" stroke-opacity="0.7" stroke-width="0.6"/>
<rect x="318.51" y="410.3" width="3.88" height="60.6" fill="#D95319" stroke="#000000" stroke-opacity="0.7" stroke-width="0.6"/>
<rect x="322.39" y="407.68" width="3.88" height="63.22" fill="#EDB120" stroke="#000000" stroke-opacity="0.7" stroke-width="0.6"/>
<rect x="326.26" y="403.89" width="3.88" height="67.01" fill="#7E2F8E" stroke="#000000" stroke-opacity="0.7" stroke-width="0.6"/>
<rect x="337.11" y="309.36" width="3.88" height="161.54" fill="#0072BD" stroke="#000000" stroke-opacity="0.7" stroke-width="0.6"/>
<rect x="340.99" y="307.35" width="3.88" height="163.55" fill="#D95319" stroke="#000000" stroke-opacity="0.7" stroke-width="0.6"/>
<rect x="344.86" y="304.61" width="3.88" height="166.29" fill="#EDB120" stroke="#000000" stroke-opacity="0.7" stroke-width="0.6"/>
<rect x="348.74" y="301.16" width="3.88" height="169.74" fill="#7E2F8E" stroke="#000000" stroke-opacity="0.7" stroke-width="0.6"/>
<rect x="359.59" y="442.14" width="3.88" height="28.76" fill="#0072BD" stroke="#000000" stroke-opacity="0.7" stroke-width="0.6"/>
<rect x="363.46" y="440.38" width="3.88" height="30.52" fill="#D95319" stroke="#000000" stroke-opacity="0.7" stroke-width="0.6"/>
<rect x="367.34" y="438.46" width="3.88" height="32.44" fill="#EDB120" stroke="#000000" stroke-opacity="0.7" stroke-width="0.6"/>
<rect x="371.21" y="435.25" width="3.88" height="35.65" fill="#7E2F8E" stroke="#000000" stroke-opacity="0.7" stroke-width="0.6"/>
<rect x="382.06" y="412.36" width="3.88" height="58.54" fill="#0072BD" stroke="#000000" stroke-opacity="0.7" stroke-width="0.6"/>
<rect x="385.94" y="410.17" width="3.88" height="60.73" fill="#D95319" stroke="#000000" stroke-opacity="0.7" stroke-width="0.6"/>
<rect x="389.81" y="407.68" width="3.88" height="63.22" fill="#EDB120" stroke="#000000" stroke-opacity="0.7" stroke-width="0.6"/>
<rect x="393.69" y="404.46" width="3.88" height="66.44" fill="#7E2F8E" stroke="#000000" stroke-opacity="0.7" stroke-width="0.6"/>
<rect x="404.54" y="370.49" width="3.88" height="100.41" fill="#0072BD" stroke="#000000" stroke-opacity="0.7" stroke-width="0.6"/>
<rect x="408.41" y="368.49" width="3.88" height="102.41" fill="#D95319" stroke="#000000" stroke-opacity="0.7" stroke-width="0.6"/>
<rect x="412.29" y="365.19" width="3.88" height="105.71" fill="#EDB120" stroke="#000000" stroke-opacity="0.7" stroke-width="0.6"/>
<rect x="416.16" y="361.38" width="3.88" height="109.52" fill="#7E2F8E" stroke="#000000" stroke-opacity="0.7" stroke-width="0.6"/>
<rect x="427.01" y="322.13" width="3.88" height="148.77" fill="#0072BD" stroke="#000000" stroke-opacity="0.7" stroke-width="0.6"/>
<rect x="430.89" y="319.61" width="3.88" height="151.29" fill="#D95319" stroke="#000000" stroke-opacity="0.7" stroke-width="0.6"/>
<rect x="434.76" y="316.66" width="3.88" height="154.24" fill="#EDB120" stroke="#000000" stroke-opacity="0.7" stroke-width="0.6"/>
<rect x="438.64" y="313.38" width="3.88" height="157.52" fill="#7E2F8E" stroke="#000000" stroke-opacity="0.7" stroke-width="0.6"/>
<rect x="266.2" y="282.3" width="179.8" height="188.6" fill="none" stroke="#555555" stroke-width="0.8"/>
<path d="M277.44 470.9v-2.8M277.44 282.3v2.8M299.91 470.9v-2.8M299.91 282.3v2.8M322.39 470.9v-2.8M322.39 282.3v2.8M344.86 470.9v-2.8M344.86 282.3v2.8M367.34 470.9v-2.8M367.34 282.3v2.8M389.81 470.9v-2.8M389.81 282.3v2.8M412.29 470.9v-2.8M412.29 282.3v2.8M434.76 470.9v-2.8M434.76 282.3v2.8M266.2 433.18h1.9M446 433.18h-1.9M266.2 395.46h1.9M446 395.46h-1.9M266.2 357.74h1.9M446 357.74h-1.9M266.2 320.02h1.9M446 320.02h-1.9" stroke="#1c1c1c" stroke-width="1" fill="none"/>
<text class="tk" text-anchor="end" transform="translate(262.6 475.9) scale(0.7 1)">0</text>
<text class="tk" text-anchor="end" transform="translate(262.6 438.18) scale(0.7 1)">0.2</text>
<text class="tk" text-anchor="end" transform="translate(262.6 400.46) scale(0.7 1)">0.4</text>
<text class="tk" text-anchor="end" transform="translate(262.6 362.74) scale(0.7 1)">0.6</text>
<text class="tk" text-anchor="end" transform="translate(262.6 325.02) scale(0.7 1)">0.8</text>
<text class="tk" text-anchor="end" transform="translate(262.6 287.3) scale(0.7 1)">1</text>
<g class="xl" transform="translate(277.34 488.5) scale(0.75 1) rotate(-45)"><text class="ms" text-anchor="end" x="0" y="0" font-size="11.0">M</text><text class="mi" x="2.2" y="-3.4" font-size="10" stroke="none" fill="#3a3a3a">&#954;</text><text transform="translate(0.0 7.8) rotate(22)" text-anchor="middle" font-size="9.6" stroke-width="0.1">1</text></g>
<g class="xl" transform="translate(299.81 488.5) scale(0.75 1) rotate(-45)"><text class="ms" text-anchor="end" x="0" y="0" font-size="11.0">M</text><text class="mi" x="2.2" y="-3.4" font-size="10" stroke="none" fill="#3a3a3a">&#954;</text><text transform="translate(0.0 7.8) rotate(22)" text-anchor="middle" font-size="9.6" stroke-width="0.1">2</text></g>
<g class="xl" transform="translate(322.29 488.5) scale(0.75 1) rotate(-45)"><text class="ms" text-anchor="end" x="0" y="0" font-size="11.0">M</text><text class="mi" x="2.2" y="-3.4" font-size="10" stroke="none" fill="#3a3a3a">&#954;</text><text transform="translate(0.0 7.8) rotate(22)" text-anchor="middle" font-size="9.6" stroke-width="0.1">3</text></g>
<g class="xl" transform="translate(344.76 488.5) scale(0.75 1) rotate(-45)"><text class="ms" text-anchor="end" x="0" y="0" font-size="11.0">M</text><text class="mi" x="2.2" y="-3.4" font-size="10" stroke="none" fill="#3a3a3a">&#954;</text><text transform="translate(0.0 7.8) rotate(22)" text-anchor="middle" font-size="9.6" stroke-width="0.1">4</text></g>
<g class="xl" transform="translate(367.24 488.5) scale(0.75 1) rotate(-45)"><text class="ms" text-anchor="end" x="0" y="0" font-size="11.0">M</text><text class="mi" x="2.2" y="-3.4" font-size="10" stroke="none" fill="#3a3a3a">&#954;</text><text transform="translate(0.0 7.8) rotate(22)" text-anchor="middle" font-size="9.6" stroke-width="0.1">5</text></g>
<g class="xl" transform="translate(389.71 488.5) scale(0.75 1) rotate(-45)"><text class="ms" text-anchor="end" x="0" y="0" font-size="11.0">M</text><text class="mi" x="2.2" y="-3.4" font-size="10" stroke="none" fill="#3a3a3a">&#954;</text><text transform="translate(0.0 7.8) rotate(22)" text-anchor="middle" font-size="9.6" stroke-width="0.1">6</text></g>
<g class="xl" transform="translate(412.19 488.5) scale(0.75 1) rotate(-45)"><text class="ms" text-anchor="end" x="0" y="0" font-size="11.0">M</text><text class="mi" x="2.2" y="-3.4" font-size="10" stroke="none" fill="#3a3a3a">&#954;</text><text transform="translate(0.0 7.8) rotate(22)" text-anchor="middle" font-size="9.6" stroke-width="0.1">7</text></g>
<g class="xl" transform="translate(434.66 488.5) scale(0.75 1) rotate(-45)"><text class="ms" text-anchor="end" x="0" y="0" font-size="11.0">M</text><text class="mi" x="2.2" y="-3.4" font-size="10" stroke="none" fill="#3a3a3a">&#954;</text><text transform="translate(0.0 7.8) rotate(22)" text-anchor="middle" font-size="9.6" stroke-width="0.1">8</text></g>
<text class="mi" font-size="14" fill="#1a1a1a" stroke="#1a1a1a" stroke-width="0.25" transform="translate(339.3 277.1) scale(0.98 1)">&#956;</text>
<text class="tt" text-anchor="end" stroke="#1a1a1a" stroke-width="0.38" transform="translate(372.5 277.1) scale(0.715 1)">= 100</text>
<text class="lb" text-anchor="middle" font-size="14.4" style="font-size:14.4px" stroke="#2e2e2e" stroke-width="0.3" transform="translate(356.1 518.4) scale(0.665 1)">Alternatives</text>
<text class="lb" text-anchor="middle" transform="translate(245.9 376.6) rotate(-90) scale(1.02 0.82)" stroke="#2e2e2e" stroke-width="0.2">Value</text>
</g>
<g>
<rect x="455.2" y="283.1" width="58.4" height="61.4" fill="#ffffff" stroke="#666666" stroke-width="0.7"/>
<rect x="457.4" y="286.1" width="26.4" height="11.2" fill="#0072BD" stroke="#000000" stroke-opacity="0.8" stroke-width="0.7"/>
<text transform="translate(486.4 296.5) scale(0.7 1)" font-size="11.4" letter-spacing="0.1" fill="#2e2e2e" stroke="#2e2e2e" stroke-width="0.3"><tspan class="mi" fill="#7a7a7a" stroke="none" font-size="12">&#946;</tspan> = 0.1</text>
<rect x="457.4" y="300.9" width="26.4" height="11.2" fill="#D95319" stroke="#000000" stroke-opacity="0.8" stroke-width="0.7"/>
<text transform="translate(486.4 311.3) scale(0.7 1)" font-size="11.4" letter-spacing="0.1" fill="#2e2e2e" stroke="#2e2e2e" stroke-width="0.3"><tspan class="mi" fill="#7a7a7a" stroke="none" font-size="12">&#946;</tspan> = 0.5</text>
<rect x="457.4" y="315.5" width="26.4" height="11.2" fill="#EDB120" stroke="#000000" stroke-opacity="0.8" stroke-width="0.7"/>
<text transform="translate(486.4 325.9) scale(0.7 1)" font-size="11.4" letter-spacing="0.1" fill="#2e2e2e" stroke="#2e2e2e" stroke-width="0.3"><tspan class="mi" fill="#7a7a7a" stroke="none" font-size="12">&#946;</tspan> = 0.7</text>
<rect x="457.4" y="330.1" width="26.4" height="11.2" fill="#7E2F8E" stroke="#000000" stroke-opacity="0.8" stroke-width="0.7"/>
<text transform="translate(486.4 340.5) scale(0.7 1)" font-size="11.4" letter-spacing="0.1" fill="#2e2e2e" stroke="#2e2e2e" stroke-width="0.3"><tspan class="mi" fill="#7a7a7a" stroke="none" font-size="12">&#946;</tspan> = 0.9</text>
</g>
</svg>
</body>
</html>
